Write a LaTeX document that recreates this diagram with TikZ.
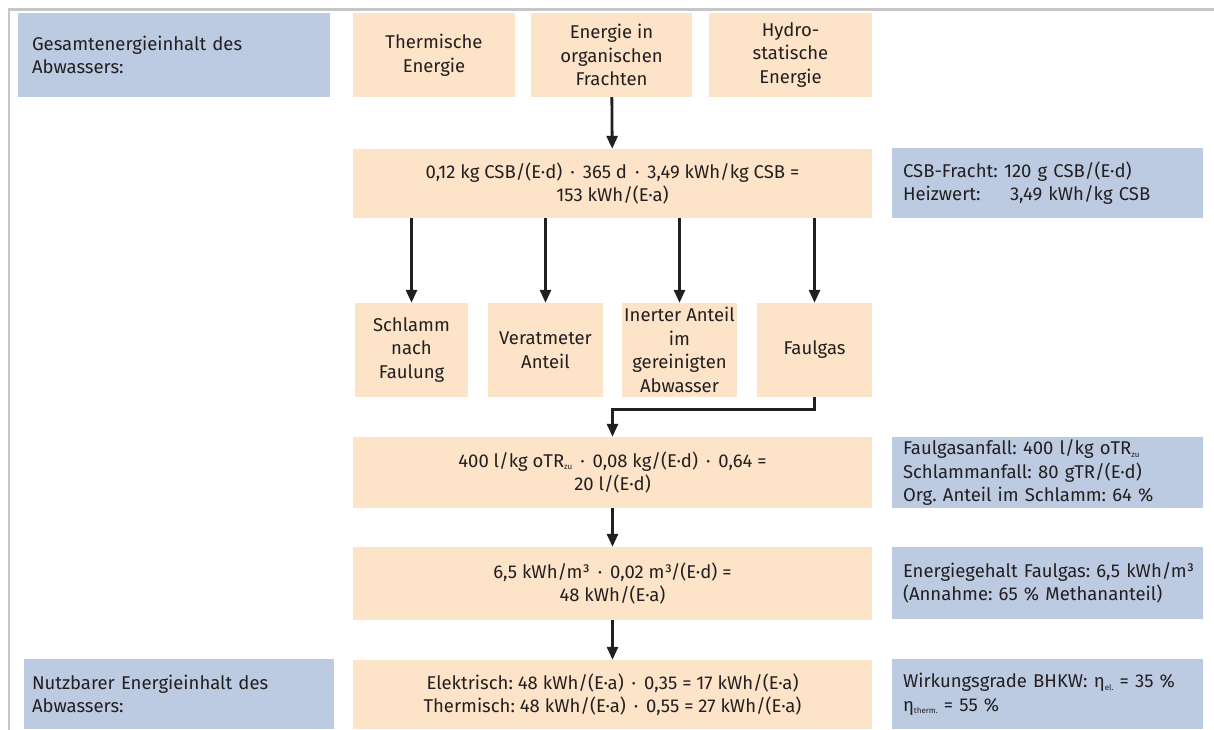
\documentclass[tikz,border=0pt]{standalone}
\usepackage{fontspec}
\setmainfont{Fira Sans}
\usetikzlibrary{arrows.meta}
\definecolor{peach}{HTML}{FDE3C7}
\definecolor{bluegray}{HTML}{BCCBE1}
\definecolor{ink}{HTML}{231F20}
\definecolor{framegray}{HTML}{C6C6C6}
\newcommand{\mdot}{\,·\,}
\newcommand{\subz}[1]{\raisebox{-2.5pt}{\fontsize{8}{8}\selectfont #1}}
\frenchspacing
\begin{document}
\begin{tikzpicture}[x=1pt,y=-1pt,
  font=\fontsize{18.5}{23.5}\selectfont\frenchspacing, text=ink,
  obox/.style={fill=peach, draw=none, inner sep=0pt, align=center},
  bbox/.style={fill=bluegray, draw=none, inner ysep=0pt, align=left},
  arr/.style={-{Triangle[width=11pt,length=13pt]}, line width=2.8pt, draw=ink}]
\useasboundingbox (0,0) rectangle (1214,729);
\draw[framegray, line width=2.5pt] (9,740) -- (9,9.3) -- (1220,9.3);

\node[bbox, minimum width=312pt, minimum height=84pt, text width=284pt, inner xsep=14pt] (g1) at (174,55) {Gesamtenergieinhalt des\\Abwassers:};
\node[obox, minimum width=162pt, minimum height=84pt] (th) at (434,55) {Thermische\\Energie};
\node[obox, minimum width=161pt, minimum height=84pt] (eo) at (611.5,55) {Energie in\\organischen\\Frachten};
\node[obox, minimum width=163pt, minimum height=84pt] (hy) at (790.5,55) {Hydro-\\statische\\Energie};

\node[obox, minimum width=519pt, minimum height=69pt] (csb) at (612.5,183.5) {0,12 kg CSB/(E·d) \mdot{} 365 d \mdot{} 3,49 kWh/kg CSB =\\153 kWh/(E·a)};
\node[bbox, minimum width=311pt, minimum height=70pt, text width=289pt, inner xsep=11pt] (csbr) at (1047.5,183) {CSB-Fracht: 120 g CSB/(E·d)\\\makebox[107pt][l]{Heizwert:}3,49 kWh/kg CSB};

\node[obox, minimum width=113pt, minimum height=94pt] (s1) at (411.5,350) {Schlamm\\nach\\Faulung};
\node[obox, minimum width=115pt, minimum height=94pt] (s2) at (545.5,350) {Veratmeter\\Anteil};
\node[obox, minimum width=115pt, minimum height=94pt] (s3) at (679.5,350) {Inerter Anteil\\im\\gereinigten\\Abwasser};
\node[obox, minimum width=115pt, minimum height=94pt] (s4) at (814.5,350) {Faulgas};

\node[obox, minimum width=519pt, minimum height=71pt] (fg) at (612.5,472.5) {400 l/kg oTR\subz{zu} \mdot{} 0,08 kg/(E·d) \mdot{} 0,64 =\\20 l/(E·d)};
\node[bbox, minimum width=311pt, minimum height=71pt, text width=289pt, inner xsep=11pt] (fgr) at (1047.5,472.5) {Faulgasanfall: 400 l/kg oTR\subz{zu}\\Schlammanfall: 80 gTR/(E·d)\\Org. Anteil im Schlamm: 64 \%};

\node[obox, minimum width=519pt, minimum height=73pt] (en) at (612.5,583.5) {6,5 kWh/m³ \mdot{} 0,02 m³/(E·d) =\\48 kWh/(E·a)};
\node[bbox, minimum width=311pt, minimum height=72pt, text width=289pt, inner xsep=11pt] (enr) at (1047.5,583) {\mbox{Energiegehalt Faulgas: 6,5 kWh/m³}\\(Annahme: 65 \% Methananteil)};

\node[obox, minimum width=519pt, minimum height=69pt] (nu) at (612.5,694.5) {Elektrisch: 48 kWh/(E·a) \mdot{} 0,35 = 17 kWh/(E·a)\\Thermisch: 48 kWh/(E·a) \mdot{} 0,55 = 27 kWh/(E·a)};
\node[bbox, minimum width=310pt, minimum height=70pt, text width=294pt, inner xsep=8pt] (g2) at (179,694) {Nutzbarer Energieinhalt des\\Abwassers:};
\node[bbox, minimum width=311pt, minimum height=70pt, text width=289pt, inner xsep=11pt] (bhkw) at (1047.5,694) {Wirkungsgrade BHKW: η\subz{el.} = 35 \%\\η\subz{therm.} = 55 \%};

\draw[arr] (eo) -- (csb);
\draw[arr] (s1.north |- csb.south) -- (s1.north);
\draw[arr] (s2.north |- csb.south) -- (s2.north);
\draw[arr] (s3.north |- csb.south) -- (s3.north);
\draw[arr] (s4.north |- csb.south) -- (s4.north);
\draw[arr] (s4.south) -- ++(0,12.5) -| (fg.north);
\draw[arr] (fg) -- (en);
\draw[arr] (en) -- (nu);
\end{tikzpicture}
\end{document}
